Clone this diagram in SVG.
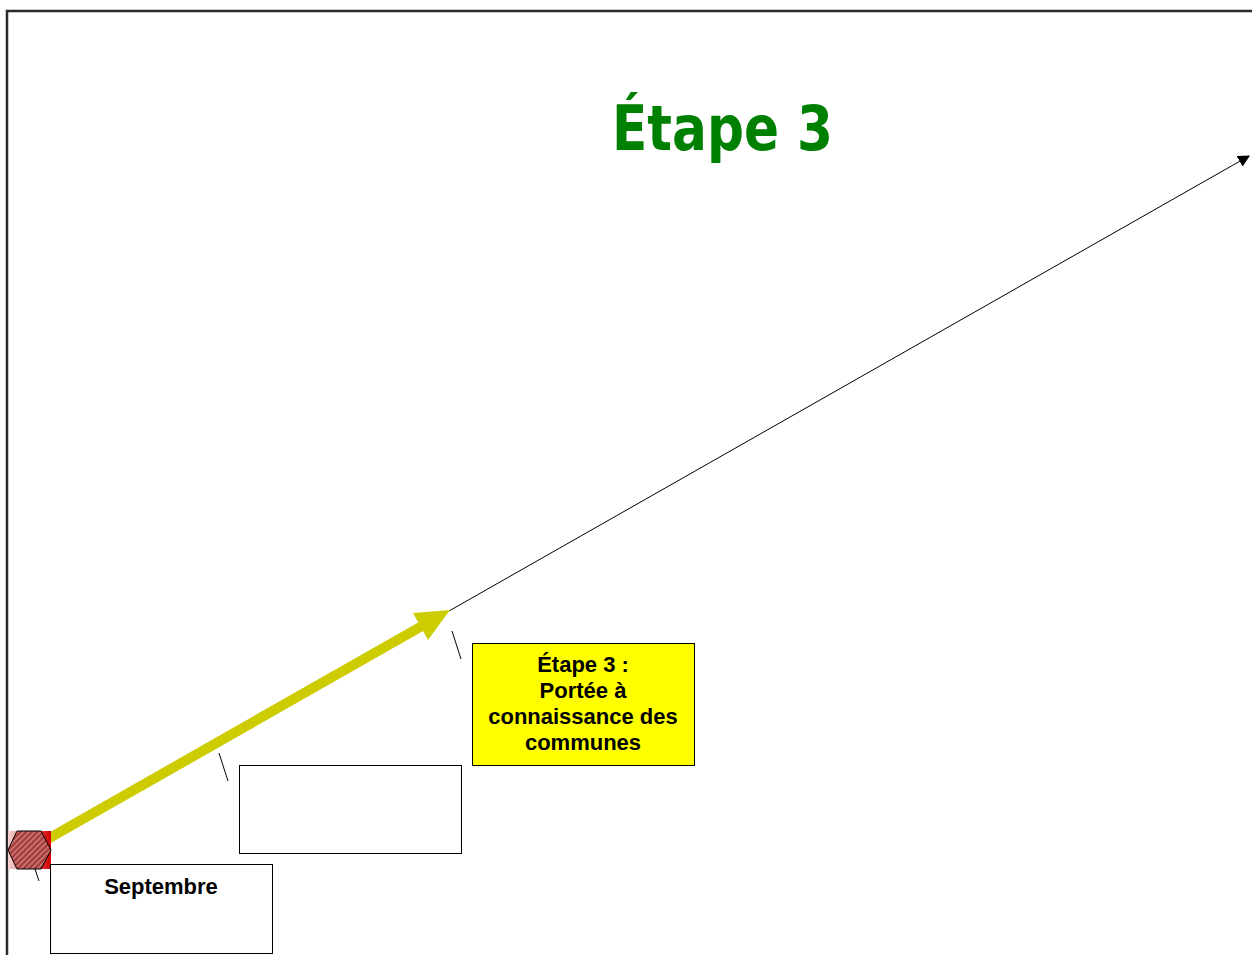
<svg xmlns="http://www.w3.org/2000/svg" width="1252" height="955" viewBox="0 0 1252 955">
  <style>
    .frame { fill: none; stroke: #2a2a2a; stroke-width: 2.5; }
    .box { fill: #ffffff; stroke: #000000; stroke-width: 1; }
    .box-hl { fill: #ffff00; stroke: #000000; stroke-width: 1; }
    .lbl { font-family: "Liberation Sans", Arial, sans-serif; font-weight: bold; font-size: 22px; fill: #000000; text-anchor: middle; }
    .title { font-family: "DejaVu Sans", "Liberation Sans", sans-serif; font-weight: bold; font-size: 62px; fill: #008000; }
    .tick { stroke: #000000; stroke-width: 1; }
  </style>
  <defs>
    <marker id="arrowBlack" viewBox="0 0 10 10" refX="9" refY="5" markerWidth="12" markerHeight="12" markerUnits="userSpaceOnUse" orient="auto">
      <path d="M0,0 L10,5 L0,10 z" fill="#000000"/>
    </marker>
    <linearGradient id="startBg" x1="0" y1="0" x2="1" y2="0">
      <stop offset="0" stop-color="#f6d2d2"/>
      <stop offset="1" stop-color="#d40000"/>
    </linearGradient>
    <pattern id="hatch" width="4" height="4" patternUnits="userSpaceOnUse" patternTransform="rotate(-45)">
      <rect width="4" height="4" fill="#a53a3a"/>
      <rect width="4" height="1.5" fill="#cf8080"/>
    </pattern>
  </defs>

  <rect width="1252" height="955" fill="#ffffff"/>

  <!-- page frame -->
  <path class="frame" d="M7,955 L7,11 L1252,11"/>

  <!-- title -->
  <text class="title" x="612" y="150" textLength="221" lengthAdjust="spacingAndGlyphs">Étape 3</text>

  <g id="connectors">
    <!-- timeline continuation -->
    <line x1="449" y1="611" x2="1249" y2="156" stroke="#000000" stroke-width="1" marker-end="url(#arrowBlack)"/>
    <!-- progress arrow -->
    <line x1="46" y1="840" x2="422" y2="626" stroke="#cccc00" stroke-width="10"/>
    <polygon points="450,610 413,613 428,640" fill="#cccc00"/>
    <!-- label leaders -->
    <line class="tick" x1="452" y1="631" x2="461" y2="659"/>
    <line class="tick" x1="219" y1="753" x2="228" y2="781"/>
    <line class="tick" x1="35" y1="869" x2="39" y2="881"/>
  </g>

  <g id="start-marker">
    <rect x="8" y="831" width="43" height="38" fill="url(#startBg)"/>
    <polygon points="8,850 17,831 41,831 51,850 41,869 17,869" fill="url(#hatch)" stroke="#000000" stroke-width="1"/>
  </g>

  <g id="node-septembre">
    <rect class="box" x="50.5" y="864.5" width="222" height="89"/>
    <text class="lbl" x="161" y="894">Septembre</text>
  </g>

  <g id="node-empty">
    <rect class="box" x="239.5" y="765.5" width="222" height="88"/>
  </g>

  <g id="node-etape3">
    <rect class="box-hl" x="472.5" y="643.5" width="222" height="122"/>
    <text class="lbl" x="583" y="672">Étape 3 :</text>
    <text class="lbl" x="583" y="698">Portée à</text>
    <text class="lbl" x="583" y="724">connaissance des</text>
    <text class="lbl" x="583" y="750">communes</text>
  </g>
</svg>
